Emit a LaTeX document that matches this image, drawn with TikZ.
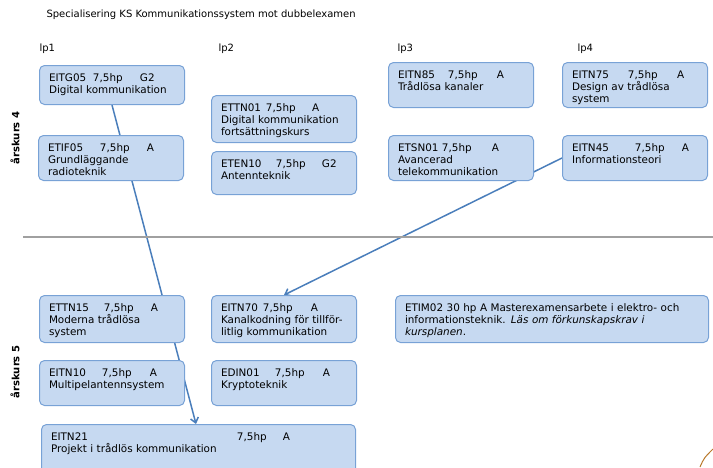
\documentclass[tikz,border=0pt]{standalone}
\usepackage{fontspec}
\setmainfont{DejaVu Sans}
\usetikzlibrary{arrows.meta,backgrounds}

\definecolor{kursfyll}{RGB}{198,217,241}
\definecolor{kurskant}{RGB}{120,162,214}
\definecolor{pil}{RGB}{74,126,187}
\definecolor{skiljelinje}{RGB}{160,160,160}
\definecolor{brun}{RGB}{184,120,42}

% kurskod, 7,5hp och betyg i fasta kolumner
\newcommand{\kod}[4]{\makebox[#1][l]{#3}\makebox[#2][l]{7,5hp}#4}

\tikzset{
  kurs/.style={draw=kurskant, fill=kursfyll, line width=1pt, rounded corners=5pt,
    anchor=north west, align=left, text width=126pt, inner xsep=9.5pt,
    inner ysep=8pt, text height=7.5pt, font=\fontsize{10.4}{12}\selectfont},
  koppling/.style={draw=pil, line width=1.5pt}
}

\begin{document}
\begin{tikzpicture}[x=1pt,y=-1pt,font=\fontsize{10}{12}\selectfont]
  \useasboundingbox (0,0) rectangle (713,467);

  \node[anchor=west] (titel) at (43,15) {Specialisering KS Kommunikationssystem mot dubbelexamen};

  \begin{scope}[every node/.style={anchor=west}]
    \node (lp1) at (36,49) {lp1};
    \node (lp2) at (215,49) {lp2};
    \node (lp3) at (394,49) {lp3};
    \node (lp4) at (574,49) {lp4};
  \end{scope}

  \begin{scope}[every node/.style={rotate=90, font=\fontsize{10}{12}\selectfont\bfseries}]
    \node (ak4) at (15,138) {årskurs 4};
    \node (ak5) at (15,372) {årskurs 5};
  \end{scope}

  \draw[skiljelinje, line width=1.5pt] (23,237) -- (713,237);

  % årskurs 4
  \begin{scope}[every node/.style={kurs}]
    \node[text depth=15.5pt] (eitg05) at (39,65) {\kod{44pt}{47pt}{EITG05}{G2}\\Digital kommunikation};
    \node[text depth=21.5pt] (etif05) at (38,135) {\kod{52pt}{47pt}{ETIF05}{A}\\Grundläggande\\radioteknik};
    \node[text depth=23.5pt] (ettn01) at (211,95) {\kod{45pt}{46pt}{ETTN01}{A}\\Digital kommunikation\\fortsättningskurs};
    \node[text depth=19.5pt] (eten10) at (211,151) {\kod{55pt}{46pt}{ETEN10}{G2}\\Antennteknik};
    \node[text depth=21.5pt] (eitn85) at (388,62) {\kod{50pt}{49pt}{EITN85}{A}\\Trådlösa kanaler};
    \node[text depth=21.5pt] (eitn75) at (562,62) {\kod{56pt}{49pt}{EITN75}{A}\\Design av trådlösa\\system};
    \node[text depth=21.5pt] (etsn01) at (388,135) {\kod{44pt}{50pt}{ETSN01}{A}\\Avancerad\\telekommunikation};
    \node[text depth=21.5pt] (eitn45) at (562,135) {\kod{63pt}{47pt}{EITN45}{A}\\Informationsteori};
  \end{scope}

  % årskurs 5
  \begin{scope}[every node/.style={kurs}]
    \node[text depth=23.5pt] (ettn15) at (39,295) {\kod{55pt}{47pt}{ETTN15}{A}\\Moderna trådlösa\\system};
    \node[text depth=23.5pt] (eitn70) at (211,295) {\kod{42pt}{48pt}{EITN70}{A}\\Kanalkodning för tillför-\\litlig kommunikation};
    \node[text depth=23.5pt, text width=294pt] (etim02) at (395,295) {ETIM02 30 hp A Masterexamensarbete i elektro- och\\informationsteknik. \textit{Läs om förkunskapskrav i}\\\textit{kursplanen}.};
    \node[text depth=21.5pt] (eitn10) at (39,360) {\kod{53pt}{48pt}{EITN10}{A}\\Multipelantennsystem};
    \node[text depth=21.5pt] (edin01) at (211,360) {\kod{54pt}{48pt}{EDIN01}{A}\\Kryptoteknik};
    \node[text depth=36.5pt, text width=295pt] (eitn21) at (41,424) {\kod{186pt}{46pt}{EITN21}{A}\\Projekt i trådlös kommunikation};
  \end{scope}

  \begin{scope}[on background layer]
    \draw[koppling, -{Straight Barb[length=5pt,width=8pt]}] (eitg05.south) -- ([xshift=155pt]eitn21.north west);
    \draw[koppling, -{Straight Barb[length=5pt,width=8pt]}] (eitn45.west) -- (eitn70.north);
  \end{scope}

  \draw[brun, line width=1pt] (700,467) .. controls (704,458) .. (713,449);

\end{tikzpicture}
\end{document}
